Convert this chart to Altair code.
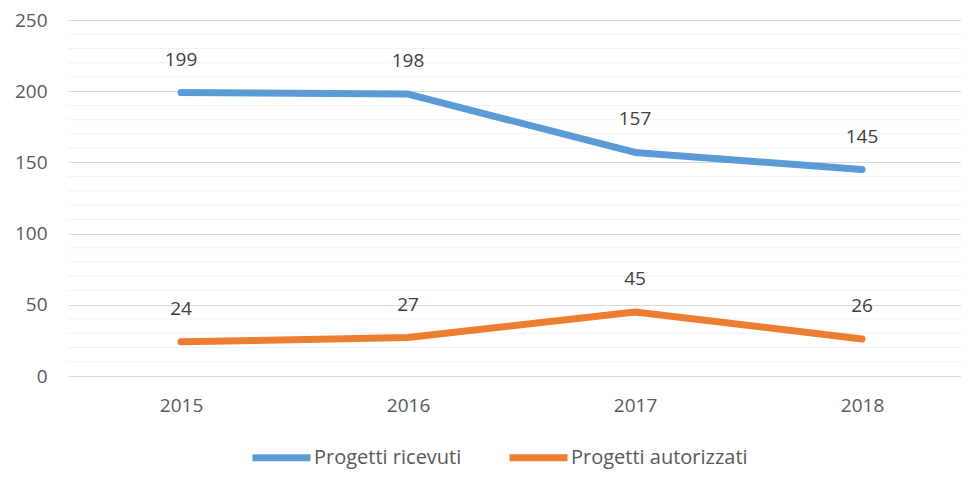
import altair as alt
import pandas as pd

years = [2015, 2016, 2017, 2018]
ricevuti = [199, 198, 157, 145]
autorizzati = [24, 27, 45, 26]
series_names = ["Progetti ricevuti", "Progetti autorizzati"]
series_colors = ["#5B9BD5", "#ED7D31"]
major_ticks = [0, 50, 100, 150, 200, 250]
minor_ticks = [v for v in range(10, 250, 10) if v % 50 != 0]

rows = []
for y, v in zip(years, ricevuti):
    rows.append({"anno": y, "valore": v, "serie": series_names[0]})
for y, v in zip(years, autorizzati):
    rows.append({"anno": y, "valore": v, "serie": series_names[1]})
df = pd.DataFrame(rows)
minor_df = pd.DataFrame({"valore": minor_ticks})

FONT = "Open Sans"

xscale = alt.Scale(domain=[2014.502, 2018.436], nice=False, zero=False)
yscale = alt.Scale(domain=[0, 250], nice=False)
yaxis = alt.Axis(values=major_ticks, grid=True, gridColor="#D9D9D9", gridWidth=1,
                 domain=False, ticks=False, labelPadding=21, labelFontSize=19,
                 labelColor="#595959", labelFont=FONT)

minor = alt.Chart(minor_df).mark_rule(color="#F2F2F2", strokeWidth=1).encode(
    y=alt.Y("valore:Q", scale=yscale, title=None, axis=yaxis)
)

base = alt.Chart(df).encode(
    x=alt.X("anno:Q", scale=xscale, title=None,
            axis=alt.Axis(values=years, format="d", grid=False, domain=False, ticks=False,
                          labelPadding=20, labelFontSize=19, labelColor="#595959", labelFont=FONT)),
    y=alt.Y("valore:Q", scale=yscale, title=None, axis=yaxis),
)

lines = base.mark_line(strokeWidth=7, strokeCap="round", strokeJoin="round").encode(
    color=alt.Color("serie:N", scale=alt.Scale(domain=series_names, range=series_colors),
                    sort=series_names, title=None,
                    legend=alt.Legend(orient="none", legendX=181, legendY=405, direction="horizontal",
                                      symbolType="stroke", symbolStrokeWidth=7, symbolSize=3364,
                                      labelFontSize=20, labelFont=FONT, labelColor="#595959",
                                      labelLimit=400, labelOffset=0, columnPadding=33))
)

labels = base.mark_text(dy=-33, fontSize=19, font=FONT, color="#404040").encode(
    text=alt.Text("valore:Q")
)

chart = alt.layer(minor, lines, labels).properties(
    width=893, height=356,
    autosize=alt.AutoSizeParams(type="none"),
    padding={"left": 60, "top": 12, "right": 0, "bottom": 93},
).configure_view(stroke=None)

chart.save("out.html", embed_options={"renderer": "svg", "actions": False})
